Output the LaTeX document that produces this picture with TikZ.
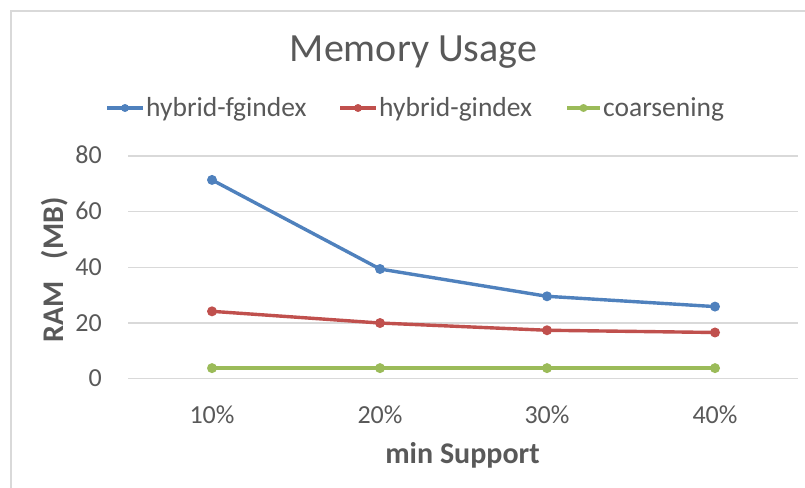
\documentclass[tikz,border=0pt]{standalone}
\usepackage{fontspec}
\setmainfont{Carlito}
\definecolor{sblue}{HTML}{4F81BD}
\definecolor{sred}{HTML}{C0504D}
\definecolor{sgreen}{HTML}{9BBB59}
\definecolor{gridc}{HTML}{D9D9D9}
\definecolor{txt}{HTML}{595959}
\begin{document}
\begin{tikzpicture}[x=1pt,y=-1pt,
  gridline/.style={draw=gridc, line width=1.2pt},
  ticklab/.style={text=txt, font=\fontsize{26}{30}\selectfont, inner sep=0pt},
  axtitle/.style={text=txt, font=\fontsize{30}{36}\selectfont\bfseries, inner sep=0pt},
  legtext/.style={text=txt, font=\fontsize{27.5}{32}\selectfont, inner sep=0pt, anchor=base west},
  mk/.style={circle, fill=#1, draw=none, inner sep=0pt, minimum size=10pt},
  ser/.style={draw=#1, line width=3.4pt, line join=round, line cap=round}]
\useasboundingbox (0,0) rectangle (805,487);
\fill[white] (0,0) rectangle (805,487);
% chart frame
\draw[gridc, line width=1.2pt] (11,490) -- (11,11) -- (810,11);
% title
\node[text=txt, font=\fontsize{40}{48}\selectfont, inner sep=0pt, anchor=base] (title) at (413.5,62) {Memory Usage};
% gridlines and y labels
\foreach \v/\n in {0/a,20/b,40/c,60/d,80/e}{
  \coordinate (gl\n) at (128,{378.7-2.784*\v});
  \coordinate (gr\n) at (798,{378.7-2.784*\v});
  \draw[gridline] (gl\n) -- (gr\n);
  \node[ticklab, anchor=base east] (y\n) at (102,{378.7-2.784*\v+8}) {\v};
}
% x labels
\foreach \x/\l/\n in {212/10/a,380/20/b,547/30/c,715/40/d}{
  \node[ticklab, anchor=base] (x\n) at (\x,423) {\l\%};
}
% axis titles
\node[axtitle, anchor=base] (xtitle) at (462.5,463) {min Support};
\node[axtitle, anchor=base, rotate=90] (ytitle) at (63,270) {RAM\hspace{0.5em} (MB)};
% series
\foreach \s/\c/\a/\b/\cc/\d in {f/sblue/71.4/39.4/29.6/25.9, g/sred/24.2/20.0/17.4/16.6, c/sgreen/3.8/3.8/3.8/3.8}{
  \node[mk=\c] (\s1) at (212,{378.7-2.784*\a}) {};
  \node[mk=\c] (\s2) at (380,{378.7-2.784*\b}) {};
  \node[mk=\c] (\s3) at (547,{378.7-2.784*\cc}) {};
  \node[mk=\c] (\s4) at (715,{378.7-2.784*\d}) {};
  \draw[ser=\c] (\s1.center) -- (\s2.center) -- (\s3.center) -- (\s4.center);
}
% legend
\foreach \s/\c/\xa/\xb/\lab in {f/sblue/107/143/hybrid-fgindex, g/sred/340/376/hybrid-gindex, c/sgreen/567/600/coarsening}{
  \coordinate (la\s) at (\xa,108);
  \coordinate (lb\s) at (\xb,108);
  \draw[ser=\c, line cap=butt] (la\s) -- (lb\s);
  \node[mk=\c, minimum size=8pt] (lm\s) at ({(\xa+\xb)/2},108) {};
  \node[legtext] (lt\s) at (\xb+3,116) {\lab};
}
\end{tikzpicture}
\end{document}
